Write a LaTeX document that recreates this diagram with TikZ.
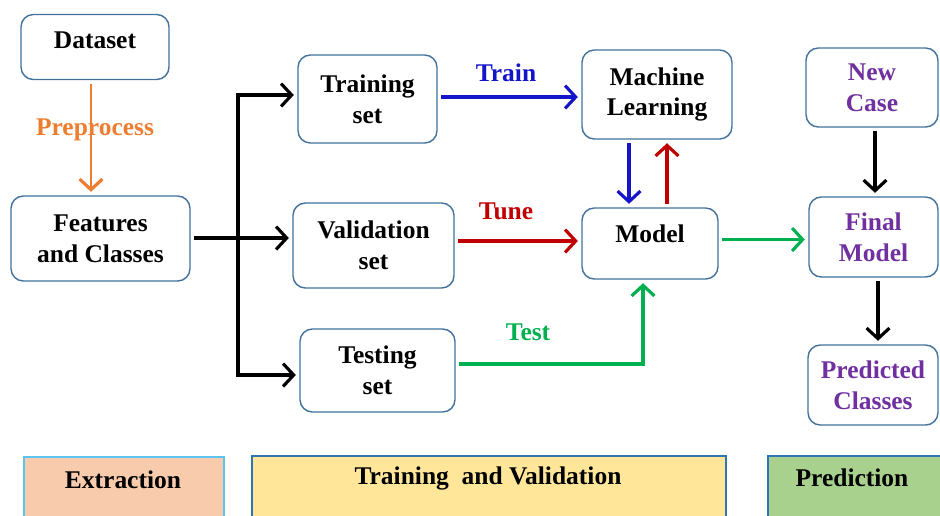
\documentclass[tikz,border=0pt]{standalone}
\usepackage{fontspec}
\setmainfont{Liberation Serif}
\usetikzlibrary{arrows.meta}

\definecolor{boxblue}{RGB}{65,113,156}
\definecolor{prepcol}{RGB}{237,125,49}
\definecolor{traincol}{RGB}{20,20,200}
\definecolor{tunecol}{RGB}{192,0,0}
\definecolor{testcol}{RGB}{0,176,80}
\definecolor{predcol}{RGB}{112,48,160}
\definecolor{extrfill}{RGB}{248,203,173}
\definecolor{extrline}{RGB}{91,197,242}
\definecolor{tvfill}{RGB}{255,230,153}
\definecolor{predfill}{RGB}{169,209,142}
\definecolor{bandline}{RGB}{46,117,182}

\tikzset{
  box/.style={draw=boxblue, line width=0.8pt, rounded corners=7pt, fill=white,
    align=center, inner sep=0pt, font=\bfseries\fontsize{14.5}{17.6}\selectfont},
  word/.style={font=\bfseries\fontsize{14.5}{17.6}\selectfont},
  link/.style={line width=1.8pt, shorten <=2pt, shorten >=2pt,
    -{Straight Barb[length=6pt,width=13pt,line width=1.8pt]}},
  band/.style={line width=0.8pt}
}

\begin{document}
\begin{tikzpicture}[x=0.02cm, y=-0.02cm]
\useasboundingbox (0,0) rectangle (940,515);

% boxes
\node[box, minimum width=2.96cm, minimum height=1.30cm, text depth=8pt] (data) at (95,47) {Dataset};
\node[box, minimum width=3.58cm, minimum height=1.70cm] (feat) at (100.5,238.5) {Features\\and Classes};
\node[box, minimum width=2.78cm, minimum height=1.76cm] (train) at (367.5,99) {Training\\set};
\node[box, minimum width=3.22cm, minimum height=1.70cm] (valid) at (373.5,245.5) {Validation\\set};
\node[box, minimum width=3.10cm, minimum height=1.66cm] (test) at (377.5,370.5) {Testing\\set};
\node[box, minimum width=3.00cm, minimum height=1.78cm] (ml) at (657,94.5) {Machine\\Learning};
\node[box, minimum width=2.72cm, minimum height=1.42cm, text depth=11.5pt] (model) at (650,243.5) {Model};
\node[box, text=predcol, minimum width=2.64cm, minimum height=1.58cm] (new) at (872,87.5) {New\\Case};
\node[box, text=predcol, minimum width=2.58cm, minimum height=1.60cm] (final) at (873.5,237) {Final\\Model};
\node[box, text=predcol, minimum width=2.60cm, minimum height=1.60cm] (pred) at (873,385) {Predicted\\Classes};

% arrows
\draw[link, prepcol, line width=1pt] ([xshift=-0.08cm]data.south) -- ([xshift=-0.08cm]data.south |- feat.north);
\node[word, text=prepcol] (preplab) at (95,130) {Preprocess};

\coordinate (split) at (238,238);
\draw[link] (feat.east |- split) -- (split -| valid.west);
\draw[link, shorten <=0pt] (split) |- ([yshift=0.08cm]train.west);
\draw[link, shorten <=0pt] (split) |- ([yshift=-0.09cm]test.west);

\draw[link, traincol] ([yshift=0.04cm]train.east) -- ([yshift=0.04cm]train.east -| ml.west);
\node[word, text=traincol] (trainlab) at (506,73) {Train};
\draw[link, tunecol] ([yshift=0.09cm]valid.east) -- ([yshift=0.09cm]valid.east -| model.west);
\node[word, text=tunecol] (tunelab) at (506,211) {Tune};
\draw[link, testcol] ([yshift=0.13cm]test.east) -| ([xshift=-0.14cm]model.south);
\node[word, text=testcol] (testlab) at (528,332) {Test};

\draw[link, traincol] ([xshift=-0.42cm]model.north |- ml.south) -- ([xshift=-0.42cm]model.north);
\draw[link, tunecol] ([xshift=0.34cm]model.north) -- ([xshift=0.34cm]model.north |- ml.south);

\draw[link, testcol] ([yshift=0.08cm]model.east) -- ([yshift=0.08cm]model.east -| final.west);
\draw[link] ([xshift=0.06cm]new.south) -- ([xshift=0.06cm]new.south |- final.north);
\draw[link] ([xshift=0.09cm]final.south) -- ([xshift=0.09cm]final.south |- pred.north);

% stages
\draw[band, draw=extrline, fill=extrfill] (24,457) rectangle (224,530);
\draw[band, draw=bandline, fill=tvfill] (252,456) rectangle (726,530);
\draw[band, draw=bandline, fill=predfill] (768,456) rectangle (960,530);
\node[word] (extr) at (123,480) {Extraction};
\node[word] (tv) at (488,478) {Training~ and Validation};
\node[word] (predict) at (852,478) {Prediction};
\end{tikzpicture}
\end{document}
